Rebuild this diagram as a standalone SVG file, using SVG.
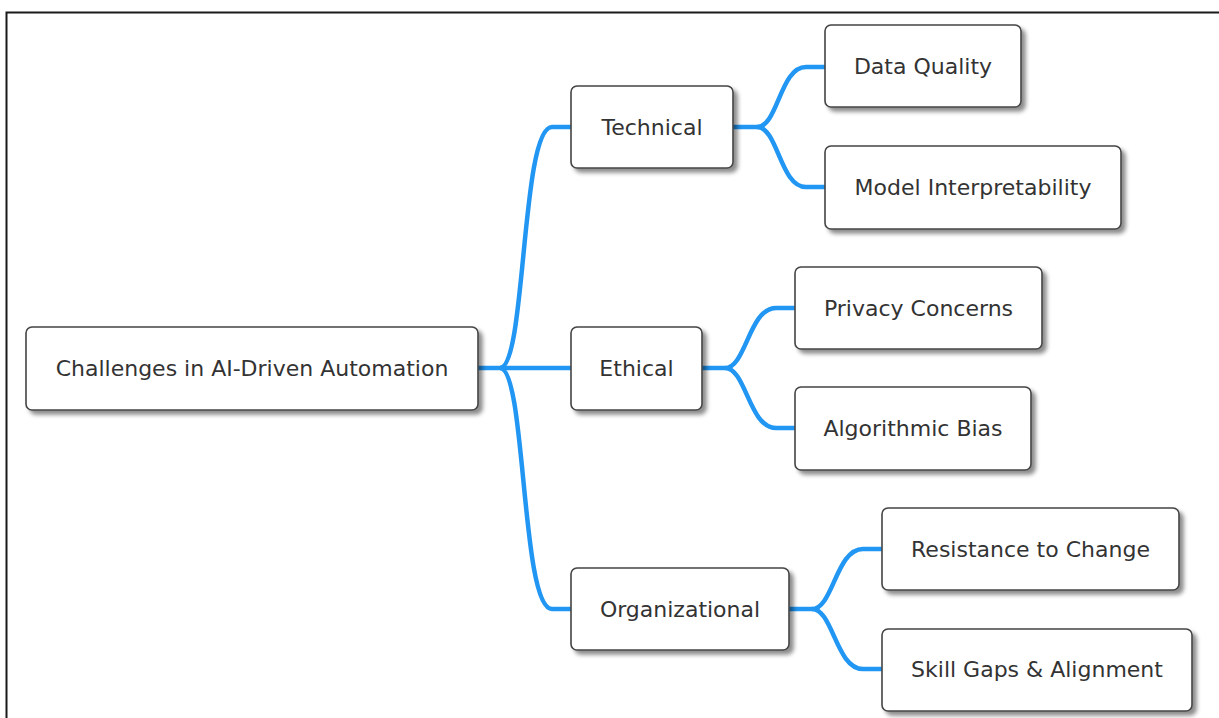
<svg xmlns="http://www.w3.org/2000/svg" width="1219" height="718" viewBox="0 0 1219 718">
  <style>
    .box { fill: #ffffff; stroke: #444444; stroke-width: 1.6; filter: url(#shadow); }
    .label { font-family: "DejaVu Sans", "Liberation Sans", sans-serif; font-size: 22px; fill: #333333; text-anchor: middle; }
    .link { fill: none; stroke: #2196f3; stroke-width: 4.5; stroke-linecap: butt; }
    .frame { fill: none; stroke: #1a1a1a; stroke-width: 2; }
  </style>
  <defs>
    <filter id="shadow" x="-10%" y="-20%" width="130%" height="160%">
      <feDropShadow dx="4" dy="4" stdDeviation="2.2" flood-color="#000000" flood-opacity="0.45"/>
    </filter>
  </defs>

  <rect width="1219" height="718" fill="#ffffff"/>
  <path class="frame" d="M6.5,718 L6.5,12.5 L1219,12.5"/>

  <g id="connectors">
    <path class="link" d="M478,368 L571,368"/>
    <path class="link" d="M500,368 C526,368 521,127 552,127 L571,127"/>
    <path class="link" d="M500,368 C526,368 521,609 552,609 L571,609"/>
    <path class="link" d="M733,127 L757,127 C778,127 780,67 806,67 L825,67"/>
    <path class="link" d="M757,127 C778,127 780,187 806,187 L825,187"/>
    <path class="link" d="M702,368 L725,368 C746,368 749,308 776,308 L795,308"/>
    <path class="link" d="M725,368 C746,368 749,428 776,428 L795,428"/>
    <path class="link" d="M789,609 L812,609 C833,609 836,549 863,549 L882,549"/>
    <path class="link" d="M812,609 C833,609 836,669 863,669 L882,669"/>
  </g>

  <g id="root">
    <rect class="box" x="26" y="327" width="452" height="83" rx="6"/>
    <text class="label" x="252" y="376">Challenges in AI-Driven Automation</text>
  </g>
  <g id="technical">
    <rect class="box" x="571" y="86" width="162" height="82" rx="6"/>
    <text class="label" x="652" y="135">Technical</text>
  </g>
  <g id="ethical">
    <rect class="box" x="571" y="327" width="131" height="83" rx="6"/>
    <text class="label" x="636.5" y="376">Ethical</text>
  </g>
  <g id="organizational">
    <rect class="box" x="571" y="568" width="218" height="82" rx="6"/>
    <text class="label" x="680" y="617">Organizational</text>
  </g>
  <g id="data-quality">
    <rect class="box" x="825" y="25" width="196" height="82" rx="6"/>
    <text class="label" x="923" y="74">Data Quality</text>
  </g>
  <g id="model-interpretability">
    <rect class="box" x="825" y="146" width="296" height="83" rx="6"/>
    <text class="label" x="973" y="195">Model Interpretability</text>
  </g>
  <g id="privacy-concerns">
    <rect class="box" x="795" y="267" width="247" height="82" rx="6"/>
    <text class="label" x="918.5" y="316">Privacy Concerns</text>
  </g>
  <g id="algorithmic-bias">
    <rect class="box" x="795" y="387" width="236" height="83" rx="6"/>
    <text class="label" x="913" y="436">Algorithmic Bias</text>
  </g>
  <g id="resistance-to-change">
    <rect class="box" x="882" y="508" width="297" height="82" rx="6"/>
    <text class="label" x="1030.5" y="557">Resistance to Change</text>
  </g>
  <g id="skill-gaps">
    <rect class="box" x="882" y="629" width="310" height="82" rx="6"/>
    <text class="label" x="1037" y="677">Skill Gaps &amp; Alignment</text>
  </g>
</svg>
